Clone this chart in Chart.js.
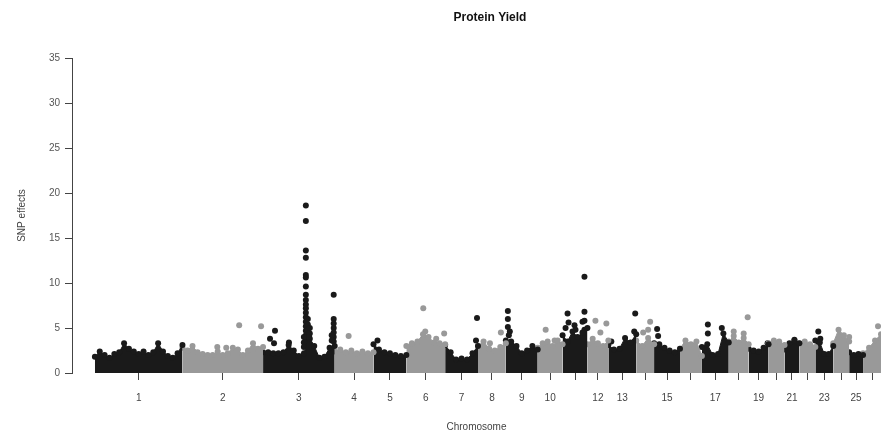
<!DOCTYPE html>
<html>
<head>
<meta charset="utf-8">
<script src="https://cdn.jsdelivr.net/npm/chart.js@4.4.1/dist/chart.umd.min.js"></script>
<style>
html, body { margin: 0; padding: 0; background: #fff; }
#wrap { position: relative; width: 885px; height: 438px; }
</style>
</head>
<body>
<div id="wrap"><canvas id="myChart"></canvas></div>
<script>
const chartTitle = "Protein Yield";
const xTitle = "Chromosome";
const yTitle = "SNP effects";

// chromosome widths along the genome axis
const chrLengths = [88, 81, 72, 39, 33, 39, 33, 28, 32, 25, 25, 21, 28, 18, 26, 22, 27, 20, 20, 16, 15, 16, 18, 16, 14, 18];
const tickLabels = ["1", "2", "3", "4", "5", "6", "7", "8", "9", "10", "", "12", "13", "", "15", "", "17", "", "19", "", "21", "", "23", "", "25", ""];

// top of the dense cloud of SNPs, read along each chromosome
const cloudTop = [
	[1.8, 2.4, 2.0, 1.7, 2.1, 2.3, 3.3, 2.7, 2.4, 2.1, 2.4, 2.0, 2.3, 3.3, 2.4, 1.9, 1.7, 2.2, 3.1],
	[2.8, 2.5, 3.0, 2.3, 2.1, 2.0, 2.0, 2.4, 2.0, 2.2, 2.8, 2.6, 2.0, 2.5, 3.3, 2.7, 2.9],
	[2.3, 2.3, 2.2, 2.2, 2.3, 3.1, 2.5, 1.9, 2.2, 4.0, 3.0, 1.7, 1.8, 2.8, 3.0],
	[2.4, 2.6, 2.3, 2.5, 2.2, 2.4, 2.2, 2.3],
	[3.2, 2.6, 2.3, 2.2, 2.0, 1.9, 2.0],
	[3.0, 3.3, 3.5, 4.3, 4.0, 3.4, 3.3, 3.2],
	[3.1, 2.3, 1.5, 1.6, 1.5, 2.2, 3.0],
	[3.0, 3.5, 2.7, 2.5, 2.9, 3.3],
	[3.6, 3.5, 3.0, 2.2, 2.5, 3.0, 2.6],
	[2.8, 3.3, 3.5, 3.0, 3.6, 3.2],
	[4.2, 3.5, 4.6, 4.0, 4.5, 5.0],
	[3.2, 3.8, 3.3, 3.0, 3.6],
	[3.1, 2.6, 2.7, 3.9, 3.4, 4.3],
	[3.6, 3.0, 3.9, 3.2],
	[3.3, 3.2, 2.8, 2.5, 2.3, 2.7],
	[2.7, 3.6, 3.2, 3.5, 1.9],
	[2.9, 3.2, 2.0, 2.1, 4.4, 3.4],
	[3.5, 4.1, 3.4, 3.9, 3.2],
	[2.7, 2.5, 2.4, 2.8, 3.2],
	[3.3, 3.6, 3.5, 3.1],
	[2.6, 3.3, 3.6, 3.3],
	[3.3, 3.5, 3.2, 2.9],
	[3.6, 3.4, 2.1, 2.1, 3.0],
	[3.3, 4.8, 4.2, 3.5],
	[2.3, 2.0, 2.1, 2.0],
	[2.2, 2.8, 3.6, 4.3]
];

// single SNPs standing above the cloud: chromosome, position in chromosome, effect
const snpChr = [2, 2, 2, 2,
	3, 3, 3, 3, 3, 3, 3, 3, 3, 3, 3, 3, 3, 3, 3, 3, 3, 3, 3,
	3, 3, 3, 3, 3, 3, 3, 3, 3, 3, 3, 3,
	3, 3, 3, 3, 3, 3, 3, 3, 3, 3, 3, 3, 3,
	4, 5, 6, 6, 6, 6, 7, 7, 8, 8, 9, 9, 9, 9, 9, 10, 10,
	11, 11, 11, 11, 11, 11, 11, 11, 11, 11, 12, 12, 12, 13, 13, 13, 14, 14, 14, 15, 15,
	17, 17, 17, 18, 18, 18, 19, 21, 23, 23, 24, 26];
const snpPos = [57, 79, 35, 44,
	43, 43, 43, 43, 43, 43, 43, 43, 43, 43, 43, 43, 43, 43, 43, 43, 43, 43, 43,
	45, 45, 45, 45, 45, 47, 47, 47, 47, 41, 41, 41,
	71, 71, 71, 71, 71, 71, 71, 69, 69, 12, 7, 11, 26,
	14, 4, 17, 38, 30, 19, 32, 31, 23, 12, 2, 2, 2, 4, 3, 8, 17,
	5, 3, 12, 13, 20, 22, 22, 22, 22, 6, 8, 19, 13, 27, 26, 3, 14, 12, 7, 3, 4,
	6, 6, 20, 19, 5, 15, 19, 10, 3, 5, 16, 15];
const snpEffect = [5.3, 5.2, 2.9, 2.8,
	18.6, 16.9, 13.6, 12.8, 10.9, 10.6, 9.6, 8.7, 8.1, 7.6, 7.2, 6.7, 6.2, 5.7, 5.2, 4.7, 4.2, 3.7, 3.2,
	6.0, 5.4, 4.8, 4.3, 3.6, 5.0, 4.4, 3.8, 3.2, 4.0, 3.4, 2.9,
	8.7, 6.0, 5.5, 5.0, 4.5, 4.0, 3.5, 4.2, 3.6, 4.7, 3.8, 3.3, 3.4,
	4.1, 3.6, 7.2, 4.4, 3.8, 4.6, 6.1, 3.6, 4.5, 3.3, 6.9, 6.0, 5.1, 4.6, 4.2, 4.8, 3.6,
	6.6, 5.0, 5.3, 4.8, 5.7, 6.8, 10.7, 5.8, 4.8, 5.6, 5.8, 5.5, 4.5, 6.6, 4.6, 3.5, 5.7, 4.8, 4.5, 4.9, 4.1,
	5.4, 4.4, 5.0, 6.2, 4.6, 4.4, 3.3, 3.7, 4.6, 3.8, 4.0, 5.2];

const colours = ["#1a1a1a", "#999999"];
const fontFamily = "'Liberation Sans', Arial, sans-serif";

window.onload = function () {
	var starts = [];
	var acc = 0;
	for (var i = 0; i < chrLengths.length; i++) {
		starts.push(acc);
		acc += chrLengths[i];
	}
	var centers = starts.map(function (s, i) { return s + chrLengths[i] / 2; });

	var datasets = [];
	for (var i = 0; i < cloudTop.length; i++) {
		var n = cloudTop[i].length;
		var col = colours[i % 2];
		var pts = cloudTop[i].map(function (v, j) {
			return { x: starts[i] + chrLengths[i] * j / (n - 1), y: v };
		});
		datasets.push({
			type: "line",
			data: pts,
			showLine: true,
			fill: "origin",
			borderColor: col,
			backgroundColor: col,
			borderWidth: 1,
			pointRadius: 3,
			pointBorderWidth: 0,
			pointBackgroundColor: col,
			tension: 0,
		});
	}

	var snpPoints = [[], []];
	for (var k = 0; k < snpChr.length; k++) {
		var c = snpChr[k] - 1;
		snpPoints[c % 2].push({ x: starts[c] + snpPos[k], y: snpEffect[k] });
	}
	for (var g = 0; g < 2; g++) {
		datasets.push({
			type: "scatter",
			data: snpPoints[g],
			pointRadius: 3,
			pointBorderWidth: 0,
			pointBackgroundColor: colours[g],
		});
	}

	var titlePlugin = {
		id: "plotTitle",
		afterDraw: function (chart) {
			var ctx = chart.ctx;
			ctx.save();
			ctx.font = "bold 12px " + fontFamily;
			ctx.fillStyle = "#111";
			ctx.textAlign = "center";
			ctx.textBaseline = "middle";
			ctx.fillText(chartTitle, 490, 18);
			ctx.restore();
		},
	};

	var ctx = document.getElementById("myChart").getContext("2d");
	myChart = new Chart(ctx, {
		type: "scatter",
		data: { datasets: datasets },
		plugins: [titlePlugin],
		options: {
			responsive: true,
			maintainAspectRatio: false,
			animation: false,
			layout: { padding: { top: 58, right: 0, bottom: 0, left: 0 } },
			plugins: {
				legend: { display: false },
				tooltip: { enabled: false },
			},
			scales: {
				x: {
					type: "linear",
					min: -23,
					max: 790,
					afterBuildTicks: function (scale) {
						scale.ticks = centers.map(function (v) { return { value: v }; });
					},
					afterFit: function (scale) {
						scale.height = 65;
						scale.paddingLeft = 0;
						scale.paddingRight = 0;
					},
					ticks: {
						autoSkip: false,
						maxRotation: 0,
						padding: 12,
						color: "#444",
						font: { family: fontFamily, size: 10 },
						callback: function (value, index) { return tickLabels[index]; },
					},
					grid: { drawOnChartArea: false, drawTicks: true, tickLength: 7, color: "#444" },
					border: { display: false },
					title: {
						display: true,
						text: xTitle,
						color: "#444",
						font: { family: fontFamily, size: 10 },
						padding: { top: 0, bottom: 5 },
					},
				},
				y: {
					min: 0,
					max: 35,
					afterFit: function (scale) { scale.width = 72; },
					ticks: {
						stepSize: 5,
						padding: 5,
						color: "#555",
						font: { family: fontFamily, size: 10 },
					},
					grid: { drawOnChartArea: false, drawTicks: true, tickLength: 7, color: "#444" },
					border: { display: true, color: "#444" },
					title: {
						display: true,
						text: yTitle,
						color: "#444",
						font: { family: fontFamily, size: 10 },
						padding: { top: 16, bottom: 0 },
					},
				},
			},
		},
	});
};
</script>
</body>
</html>
